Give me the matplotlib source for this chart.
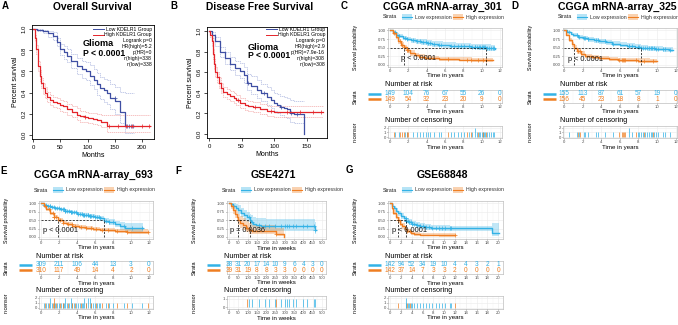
import numpy as np
import matplotlib
matplotlib.use('Agg')
import matplotlib.pyplot as plt
from matplotlib.patches import Rectangle
from matplotlib.lines import Line2D

plt.rcParams['font.family'] = ['Liberation Sans', 'DejaVu Sans']

# ---------------- data ----------------
# A: GEPIA overall survival (months) -- time, surv, lower CI, upper CI
a_low_t = [0, 8, 18, 28, 37, 44, 49, 56, 62, 70, 80, 90, 98, 105, 111, 118, 123, 130, 135, 142, 151, 160, 169, 186]
a_low_s = [1.0, 0.99, 0.98, 0.96, 0.94, 0.88, 0.81, 0.78, 0.75, 0.70, 0.65, 0.62, 0.60, 0.56, 0.52, 0.48, 0.44, 0.42, 0.40, 0.35, 0.32, 0.22, 0.08, 0.08]
a_low_lo = [1.0, 0.98, 0.96, 0.93, 0.90, 0.84, 0.76, 0.72, 0.69, 0.63, 0.58, 0.54, 0.52, 0.47, 0.43, 0.38, 0.34, 0.31, 0.29, 0.24, 0.20, 0.11, 0.02, 0.02]
a_low_hi = [1.0, 1.0, 0.99, 0.98, 0.97, 0.92, 0.86, 0.84, 0.81, 0.77, 0.73, 0.70, 0.69, 0.66, 0.62, 0.59, 0.55, 0.53, 0.52, 0.48, 0.45, 0.41, 0.40, 0.40]
a_high_t = [0, 3, 6, 9, 12, 15, 18, 22, 26, 31, 37, 43, 50, 55, 63, 71, 80, 86, 95, 101, 110, 117, 125, 135, 215]
a_high_s = [1.0, 0.92, 0.81, 0.65, 0.56, 0.49, 0.44, 0.40, 0.36, 0.33, 0.31, 0.30, 0.28, 0.27, 0.24, 0.22, 0.19, 0.175, 0.17, 0.16, 0.15, 0.14, 0.12, 0.08, 0.08]
a_high_lo = [1.0, 0.89, 0.77, 0.60, 0.51, 0.44, 0.39, 0.35, 0.31, 0.28, 0.26, 0.25, 0.23, 0.22, 0.19, 0.17, 0.14, 0.125, 0.12, 0.11, 0.10, 0.09, 0.07, 0.03, 0.03]
a_high_hi = [1.0, 0.95, 0.85, 0.70, 0.61, 0.54, 0.49, 0.45, 0.41, 0.38, 0.36, 0.35, 0.33, 0.32, 0.29, 0.27, 0.25, 0.23, 0.22, 0.21, 0.21, 0.20, 0.19, 0.19, 0.19]
a_cens_low = [150, 172, 176, 180, 184]
a_cens_high = [95, 140, 155, 170, 182, 200, 212]
a_stats = ['Logrank p=0', 'HR(high)=5.2', 'p(HR)=0', 'n(high)=338', 'n(low)=338']

# B: GEPIA disease free survival (months)
b_low_t = [0, 5, 10, 17, 24, 32, 40, 48, 54, 58, 65, 73, 80, 89, 95, 99, 104, 109, 115, 119, 124, 130, 145]
b_low_s = [1.0, 0.96, 0.90, 0.80, 0.74, 0.68, 0.64, 0.615, 0.57, 0.50, 0.47, 0.43, 0.40, 0.36, 0.33, 0.30, 0.28, 0.26, 0.25, 0.24, 0.20, 0.19, 0.0]
b_low_lo = [1.0, 0.93, 0.86, 0.75, 0.68, 0.62, 0.57, 0.54, 0.50, 0.43, 0.39, 0.35, 0.32, 0.28, 0.25, 0.22, 0.20, 0.18, 0.16, 0.15, 0.12, 0.11, 0.0]
b_low_hi = [1.0, 0.99, 0.94, 0.85, 0.80, 0.75, 0.71, 0.69, 0.65, 0.58, 0.56, 0.52, 0.49, 0.46, 0.43, 0.40, 0.39, 0.37, 0.36, 0.35, 0.33, 0.32, 0.32]
b_high_t = [0, 2, 4, 6, 8, 10, 12, 15, 18, 22, 27, 32, 38, 42, 48, 55, 60, 68, 78, 89, 100, 175]
b_high_s = [1.0, 0.96, 0.90, 0.78, 0.68, 0.60, 0.55, 0.50, 0.45, 0.41, 0.39, 0.37, 0.35, 0.33, 0.30, 0.28, 0.27, 0.26, 0.24, 0.22, 0.21, 0.21]
b_high_lo = [1.0, 0.94, 0.86, 0.73, 0.63, 0.55, 0.50, 0.45, 0.40, 0.36, 0.34, 0.32, 0.30, 0.28, 0.25, 0.23, 0.22, 0.21, 0.19, 0.17, 0.16, 0.16]
b_high_hi = [1.0, 0.98, 0.94, 0.83, 0.73, 0.65, 0.60, 0.55, 0.50, 0.46, 0.44, 0.42, 0.40, 0.38, 0.35, 0.33, 0.32, 0.31, 0.29, 0.27, 0.27, 0.27]
b_cens_low = [60, 85, 110, 126, 135]
b_cens_high = [45, 70, 95, 120, 140, 160, 172]
b_stats = ['Logrank p=0', 'HR(high)=2.9', 'p(HR)=7.9e-16', 'n(high)=308', 'n(low)=308']

# C: CGGA mRNA-array_301 (years)
c_low_t = [0, 0.3, 0.6, 1.0, 1.4, 1.8, 2.3, 2.8, 3.4, 4.0, 4.6, 5.2, 5.8, 6.5, 7.2, 8.0, 8.8, 9.6, 10.5, 11.0, 11.5]
c_low_s = [1.0, 0.95, 0.88, 0.83, 0.78, 0.74, 0.71, 0.68, 0.66, 0.63, 0.61, 0.59, 0.57, 0.56, 0.55, 0.54, 0.53, 0.52, 0.50, 0.48, 0.47]
c_low_lo = [1.0, 0.92, 0.83, 0.77, 0.72, 0.68, 0.64, 0.61, 0.59, 0.56, 0.53, 0.51, 0.49, 0.48, 0.47, 0.46, 0.45, 0.44, 0.41, 0.39, 0.38]
c_low_hi = [1.0, 0.98, 0.93, 0.89, 0.85, 0.81, 0.79, 0.76, 0.74, 0.71, 0.69, 0.68, 0.66, 0.65, 0.64, 0.63, 0.62, 0.61, 0.60, 0.58, 0.57]
c_high_t = [0, 0.3, 0.6, 0.9, 1.2, 1.5, 1.8, 2.2, 2.7, 3.2, 3.8, 4.5, 5.3, 6.2, 7.5, 9.0, 10.5, 11.2]
c_high_s = [1.0, 0.92, 0.80, 0.68, 0.58, 0.51, 0.42, 0.34, 0.28, 0.24, 0.21, 0.19, 0.17, 0.16, 0.15, 0.14, 0.13, 0.13]
c_high_lo = [1.0, 0.88, 0.74, 0.61, 0.51, 0.44, 0.35, 0.27, 0.22, 0.18, 0.15, 0.13, 0.12, 0.11, 0.10, 0.09, 0.08, 0.08]
c_high_hi = [1.0, 0.96, 0.86, 0.75, 0.66, 0.59, 0.50, 0.42, 0.36, 0.31, 0.28, 0.26, 0.24, 0.23, 0.22, 0.21, 0.20, 0.20]
c_medians = [1.5, 10.5]
c_risk_low = [149, 104, 76, 67, 55, 26, 0]
c_risk_high = [149, 54, 32, 23, 20, 9, 0]
c_cens_low = [0.5, 1.0, 1.6, 1.9, 2.5, 2.9, 3.3, 3.6, 3.9, 4.1, 4.4, 4.8, 5.3, 5.6, 6.7, 7.0, 7.4, 7.7, 8.1, 8.6, 9.0, 9.3, 9.3,
              9.5, 9.7, 9.8, 10.0, 10.1, 10.3, 10.4, 10.6, 10.8, 11.0, 11.2, 11.4]
c_cens_high = [0.4, 1.1, 1.3, 1.5, 1.8, 2.0, 6.3, 8.4, 8.8, 9.6, 10.2, 10.5]

# D: CGGA mRNA-array_325 (years)
d_low_t = [0, 0.3, 0.7, 1.0, 1.5, 2.0, 2.6, 3.2, 3.8, 4.5, 5.2, 6.0, 6.8, 7.6, 8.3, 9.0, 9.8, 10.6, 11.3, 11.7]
d_low_s = [1.0, 0.96, 0.91, 0.87, 0.82, 0.78, 0.74, 0.71, 0.68, 0.65, 0.62, 0.59, 0.56, 0.53, 0.50, 0.48, 0.46, 0.45, 0.44, 0.44]
d_low_lo = [1.0, 0.93, 0.87, 0.82, 0.76, 0.72, 0.67, 0.64, 0.61, 0.58, 0.55, 0.52, 0.49, 0.46, 0.43, 0.41, 0.39, 0.38, 0.37, 0.37]
d_low_hi = [1.0, 0.99, 0.95, 0.92, 0.88, 0.84, 0.81, 0.78, 0.75, 0.72, 0.70, 0.67, 0.64, 0.61, 0.58, 0.56, 0.54, 0.53, 0.52, 0.52]
d_high_t = [0, 0.2, 0.5, 0.8, 1.1, 1.4, 1.8, 2.3, 3.0, 3.8, 4.8, 5.8, 6.8, 8.0, 9.2, 10.0]
d_high_s = [1.0, 0.88, 0.72, 0.60, 0.50, 0.40, 0.32, 0.26, 0.22, 0.19, 0.16, 0.14, 0.13, 0.12, 0.11, 0.11]
d_high_lo = [1.0, 0.83, 0.66, 0.53, 0.43, 0.33, 0.25, 0.20, 0.16, 0.13, 0.10, 0.09, 0.08, 0.07, 0.06, 0.06]
d_high_hi = [1.0, 0.93, 0.79, 0.67, 0.58, 0.48, 0.40, 0.33, 0.29, 0.26, 0.23, 0.21, 0.20, 0.19, 0.18, 0.18]
d_medians = [1.1, 8.3]
d_risk_low = [155, 113, 87, 61, 57, 19, 0]
d_risk_high = [156, 45, 23, 18, 8, 1, 0]
d_cens_low = [0.5, 1.4, 1.6, 2.1, 2.3, 2.6, 3.4, 3.7, 4.4, 5.3, 7.0, 7.0, 7.3, 7.9, 8.1, 8.3, 8.5, 8.7, 8.9, 9.1, 9.3,
              9.5, 9.7, 9.9, 10.1, 10.6, 10.9, 11.4]
d_cens_high = [1.5, 1.7, 5.9, 6.2, 6.3, 6.4, 6.6, 7.7, 8.6, 9.6]

# E: CGGA mRNA-array_693 (years)
e_low_t = [0, 0.3, 0.7, 1.1, 1.6, 2.1, 2.7, 3.3, 4.0, 4.7, 5.3, 6.0, 6.6, 7.0, 7.5, 8.2, 8.8, 9.3, 10.0, 11.3]
e_low_s = [1.0, 0.96, 0.92, 0.88, 0.85, 0.82, 0.77, 0.73, 0.69, 0.65, 0.62, 0.58, 0.55, 0.49, 0.44, 0.38, 0.32, 0.27, 0.26, 0.26]
e_low_lo = [1.0, 0.94, 0.89, 0.85, 0.81, 0.78, 0.72, 0.68, 0.64, 0.60, 0.56, 0.52, 0.48, 0.42, 0.36, 0.29, 0.22, 0.17, 0.16, 0.16]
e_low_hi = [1.0, 0.98, 0.95, 0.92, 0.89, 0.86, 0.81, 0.78, 0.74, 0.71, 0.68, 0.65, 0.62, 0.57, 0.53, 0.48, 0.44, 0.42, 0.42, 0.42]
e_high_t = [0, 0.3, 0.6, 1.0, 1.4, 1.9, 2.4, 2.9, 3.5, 4.2, 5.0, 5.8, 6.5, 7.5, 8.2, 9.5, 11.9]
e_high_s = [1.0, 0.92, 0.82, 0.70, 0.60, 0.50, 0.43, 0.38, 0.33, 0.29, 0.26, 0.24, 0.22, 0.20, 0.17, 0.16, 0.16]
e_high_lo = [1.0, 0.89, 0.78, 0.65, 0.55, 0.45, 0.38, 0.33, 0.28, 0.24, 0.21, 0.19, 0.17, 0.15, 0.12, 0.10, 0.10]
e_high_hi = [1.0, 0.95, 0.86, 0.75, 0.65, 0.56, 0.49, 0.44, 0.39, 0.35, 0.32, 0.30, 0.28, 0.27, 0.25, 0.25, 0.25]
e_medians = [1.9, 7.0]
e_risk_low = [309, 211, 106, 44, 13, 3, 0]
e_risk_high = [310, 117, 49, 14, 4, 2, 0]
e_cens_low = [0.3, 0.6, 0.8, 1.0, 1.0, 1.2, 1.4, 1.6, 1.8, 2.0, 2.2, 2.4, 2.6, 2.7, 2.7, 2.9, 3.1, 3.3, 3.3, 3.5, 3.7,
              3.9, 4.1, 4.3, 4.5, 4.7, 4.8, 4.8, 5.0, 5.2, 5.2, 5.4, 5.4, 5.6, 5.8, 6.0, 6.2, 6.4, 6.6, 7.2, 7.6,
              8.0, 9.2, 10.1, 11.2]
e_cens_high = [0.5, 0.9, 1.3, 1.5, 1.5, 1.7, 2.1, 2.5, 3.0, 3.4, 3.8, 4.4, 5.0, 5.5, 6.1, 6.8, 7.4, 8.4, 9.6, 11.9]

# F: GSE4271 (weeks)
f_low_t = [0, 10, 20, 35, 50, 65, 80, 95, 110, 120, 130, 145, 170, 200, 460, 470]
f_low_s = [1.0, 0.97, 0.92, 0.87, 0.80, 0.72, 0.65, 0.58, 0.50, 0.45, 0.40, 0.36, 0.34, 0.32, 0.22, 0.22]
f_low_lo = [1.0, 0.92, 0.84, 0.77, 0.68, 0.59, 0.51, 0.44, 0.36, 0.31, 0.26, 0.22, 0.20, 0.18, 0.08, 0.08]
f_low_hi = [1.0, 1.0, 1.0, 0.98, 0.94, 0.87, 0.81, 0.75, 0.68, 0.64, 0.60, 0.56, 0.55, 0.53, 0.46, 0.46]
f_high_t = [0, 10, 20, 30, 40, 50, 60, 75, 90, 105, 125, 250, 298]
f_high_s = [1.0, 0.92, 0.80, 0.68, 0.58, 0.50, 0.42, 0.35, 0.28, 0.22, 0.19, 0.095, 0.0]
f_high_lo = [1.0, 0.84, 0.68, 0.55, 0.44, 0.36, 0.28, 0.21, 0.15, 0.10, 0.08, 0.02, 0.0]
f_high_hi = [1.0, 1.0, 0.94, 0.84, 0.76, 0.69, 0.62, 0.55, 0.48, 0.41, 0.36, 0.26, 0.26]
f_medians = [50, 110]
f_risk_low = [38, 31, 20, 17, 14, 10, 9, 6, 4, 3, 0]
f_risk_high = [39, 31, 19, 8, 8, 3, 3, 0, 0, 0, 0]
f_cens_low = [105, 125, 160, 195, 215, 245, 280, 300, 312, 325, 345, 360, 400, 420, 455, 465]
f_cens_high = [95, 250]

# G: GSE68848 (years)
g_low_t = [0, 0.3, 0.7, 1.0, 1.5, 2.0, 2.5, 3.0, 3.5, 4.0, 4.8, 5.6, 6.5, 7.5, 9.0, 11.0, 18.8, 20.2]
g_low_s = [1.0, 0.93, 0.85, 0.78, 0.70, 0.62, 0.55, 0.49, 0.44, 0.40, 0.36, 0.33, 0.30, 0.28, 0.27, 0.26, 0.12, 0.12]
g_low_lo = [1.0, 0.89, 0.79, 0.71, 0.63, 0.54, 0.47, 0.41, 0.36, 0.32, 0.28, 0.25, 0.22, 0.20, 0.19, 0.19, 0.02, 0.02]
g_low_hi = [1.0, 0.97, 0.91, 0.85, 0.78, 0.70, 0.63, 0.57, 0.52, 0.48, 0.44, 0.41, 0.38, 0.36, 0.35, 0.34, 0.42, 0.42]
g_high_t = [0, 0.3, 0.6, 1.0, 1.4, 1.8, 2.2, 2.7, 3.2, 3.8, 4.5, 5.5, 7.0, 9.0, 12.0]
g_high_s = [1.0, 0.85, 0.72, 0.60, 0.50, 0.40, 0.32, 0.24, 0.17, 0.12, 0.09, 0.07, 0.06, 0.05, 0.05]
g_high_lo = [1.0, 0.79, 0.64, 0.52, 0.42, 0.32, 0.24, 0.17, 0.11, 0.07, 0.04, 0.03, 0.02, 0.01, 0.01]
g_high_hi = [1.0, 0.92, 0.80, 0.69, 0.59, 0.49, 0.41, 0.32, 0.24, 0.19, 0.15, 0.13, 0.12, 0.11, 0.11]
g_medians = [1.4, 3.0]
g_risk_low = [142, 94, 52, 34, 19, 10, 4, 4, 3, 2, 1]
g_risk_high = [142, 37, 14, 7, 3, 3, 2, 0, 0, 0, 0]
g_cens_low = [2.9, 3.0, 3.0, 3.3, 3.5, 3.8, 4.0, 4.5, 5.0, 5.6, 6.0, 6.6, 7.2, 7.8, 8.4, 9.0, 9.6, 10.2, 11.0, 11.2]
g_cens_high = [1.5, 3.2, 3.6, 12.0]

years12 = [0, 2, 4, 6, 8, 10, 12]
weeks500 = [0, 50, 100, 150, 200, 250, 300, 350, 400, 450, 500]
years20 = [0, 2, 4, 6, 8, 10, 12, 14, 16, 18, 20]

# ---------------- style ----------------
BLUE = '#33B2E6'
ORANGE = '#EF7E22'
NAVY = '#3F4FA3'
RED = '#E4242A'
GRID = '#EBEBEB'
EDGE = '#BDBDBD'

W, H = 678, 325
fig = plt.figure(figsize=(W / 100, H / 100), dpi=100)


def box(l, t, r, b):
    return [l / W, 1 - b / H, (r - l) / W, (b - t) / H]


def ftext(x, y, s, **kw):
    fig.text(x / W, 1 - y / H, s, **kw)


ROWS = {
    'top': dict(title=7, legend=17, surv=(28, 67), risk=(90, 103), cens=(126, 138)),
    'bot': dict(title=175, legend=190, surv=(201, 239), risk=(261, 274), cens=(296, 309)),
}


def gg_style(ax, xlim, xt, ylim, yt, ytl):
    ax.set_xlim(xlim)
    ax.set_ylim(ylim)
    ax.set_xticks(xt)
    ax.set_xticklabels(['%g' % v for v in xt])
    ax.set_yticks(yt)
    ax.set_yticklabels(ytl)
    mids = [(a + b) / 2 for a, b in zip(xt[:-1], xt[1:])]
    ax.set_xticks(mids, minor=True)
    ax.tick_params(labelsize=3.1, length=1.0, width=0.4, pad=0.6, color='#444444', labelcolor='#4D4D4D')
    ax.tick_params(which='minor', length=0)
    ax.grid(True, color=GRID, lw=0.4)
    ax.grid(True, which='minor', axis='x', color='#F4F4F4', lw=0.3)
    ax.set_axisbelow(True)
    for sp in ax.spines.values():
        sp.set_color(EDGE)
        sp.set_linewidth(0.5)


def km_curve(ax, t, s, lo, hi, col, cens):
    ax.fill_between(t, lo, hi, step='post', color=col, alpha=0.3, lw=0)
    ax.step(t, s, where='post', color=col, lw=1.0)
    idx = np.searchsorted(t, cens, side='right') - 1
    ax.plot(cens, np.asarray(s)[idx], '+', color=col, ms=2.2, mew=0.5)


def legend_row(l, y):
    ftext(l - 5, y, 'Strata', fontsize=3.8, va='center', color='#222222')
    for x0, lab, col in [(l + 14, 'Low expression', BLUE), (l + 65, 'High expression', ORANGE)]:
        fig.add_artist(Rectangle((x0 / W, 1 - (y + 3) / H), 10 / W, 6 / H, transform=fig.transFigure,
                                 color=col, alpha=0.35, lw=0))
        fig.add_artist(Line2D([x0 / W, (x0 + 10) / W], [1 - y / H] * 2, color=col, lw=0.8))
        ftext(x0 + 13, y, lab, fontsize=3.8, va='center', color='#333333')


def km_panel(l, r, row, title, xt, xlim, xlab, low, high, meds, ptxt, ppos,
             risk_low, risk_high, cens_low, cens_high, cticks):
    R = ROWS[row]
    w = r - l
    ftext((l + r) / 2 - 3, R['title'], title, ha='center', va='center', fontsize=7.6, fontweight='bold')
    legend_row(l, R['legend'])

    # survival curves
    ax = fig.add_axes(box(l, R['surv'][0], r, R['surv'][1]))
    gg_style(ax, xlim, xt, (-0.06, 1.07), [0, 0.25, 0.5, 0.75, 1.0], ['0.00', '0.25', '0.50', '0.75', '1.00'])
    km_curve(ax, *low, BLUE, cens_low)
    km_curve(ax, *high, ORANGE, cens_high)
    ax.hlines(0.5, 0, max(meds), colors='black', linestyles=(0, (3, 2)), lw=0.5)
    ax.vlines(meds, 0, 0.5, colors='black', linestyles=(0, (3, 2)), lw=0.5)
    ax.text(ppos[0], ppos[1], ptxt, fontsize=5.3, va='center', color='#111111')
    ax.set_xlabel(xlab, fontsize=4.4, labelpad=0.2)
    ax.set_ylabel('Survival probability', fontsize=3.8)
    ax.yaxis.set_label_coords(-30 / w, 0.5)

    # number at risk
    ftext(l - 3, R['risk'][0] - 5, 'Number at risk', fontsize=5.2, va='center')
    axr = fig.add_axes(box(l, R['risk'][0], r, R['risk'][1]))
    gg_style(axr, xlim, xt, (0.35, 2.65), [], [])
    for yv, vals, col in [(2, risk_low, BLUE), (1, risk_high, ORANGE)]:
        for xv, n in zip(xt, vals):
            axr.text(xv, yv, str(n), ha='center', va='center', color=col, fontsize=4.7)
        axr.plot([-20 / w, -7 / w], [yv, yv], color=col, lw=1.8, solid_capstyle='butt',
                 transform=axr.get_yaxis_transform(), clip_on=False)
    axr.set_xlabel(xlab, fontsize=4.4, labelpad=0.2)
    axr.set_ylabel('Strata', fontsize=4)
    axr.yaxis.set_label_coords(-30 / w, 0.5)

    # number of censoring
    ftext(l - 3, R['cens'][0] - 5, 'Number of censoring', fontsize=5.2, va='center')
    axc = fig.add_axes(box(l, R['cens'][0], r, R['cens'][1]))
    gg_style(axc, xlim, xt, (-0.2, cticks[-1] + 0.35), cticks, [str(c) for c in cticks])
    for times, col in [(cens_low, BLUE), (cens_high, ORANGE)]:
        tv, cnt = np.unique(times, return_counts=True)
        axc.vlines(tv, 0, cnt, colors=col, lw=0.6, alpha=0.85)
    axc.set_xlabel(xlab, fontsize=4.4, labelpad=0.2)
    axc.set_ylabel('n.censor', fontsize=3.8)
    axc.yaxis.set_label_coords(-30 / w, 0.5)


def gepia(rect, title, title_x, low, high, cens_low, cens_high, xt, xlim, stats, stat_x, glioma_xy):
    ax = fig.add_axes(rect)
    for (t, s, lo, hi), cic in [(low, '#AEB8E0'), (high, '#F3AAAA')]:
        ax.step(t, lo, where='post', color=cic, lw=0.5, ls=(0, (2, 1)))
        ax.step(t, hi, where='post', color=cic, lw=0.5, ls=(0, (2, 1)))
    for (t, s, lo, hi), cens, col in [(low, cens_low, NAVY), (high, cens_high, RED)]:
        ax.step(t, s, where='post', color=col, lw=0.9)
        idx = np.searchsorted(t, cens, side='right') - 1
        ax.plot(cens, np.asarray(s)[idx], '+', color=col, ms=2.2, mew=0.5)
    ax.set_xlim(xlim)
    ax.set_ylim(-0.04, 1.04)
    ax.set_xticks(xt)
    ax.set_yticks([0, 0.2, 0.4, 0.6, 0.8, 1.0])
    ax.set_yticklabels(['0.0', '0.2', '0.4', '0.6', '0.8', '1.0'], rotation=90, va='center')
    ax.tick_params(direction='out', length=2.5, width=0.5, labelsize=4.3, pad=1.5)
    for sp in ax.spines.values():
        sp.set_linewidth(0.6)
    ax.set_xlabel('Months', fontsize=5, labelpad=1.5)
    ax.set_ylabel('Percent survival', fontsize=5, labelpad=2)
    # legend drawn by hand: line key + right-aligned label
    for y, lab, col in [(29, 'Low KDELR1 Group', NAVY), (34.5, 'High KDELR1 Group', RED)]:
        fig.add_artist(Line2D([(stat_x - 59) / W, (stat_x - 48) / W], [1 - y / H] * 2, color=col, lw=0.7))
        ftext(stat_x, y, lab, ha='right', va='center', fontsize=3.7)
    for i, s in enumerate(stats):
        ftext(stat_x, 40.5 + 6 * i, s, ha='right', va='center', fontsize=3.7)
    ftext(glioma_xy[0], glioma_xy[1], 'Glioma', fontsize=6.6, fontweight='bold', va='center')
    ftext(glioma_xy[0], glioma_xy[1] + 9, 'P < 0.0001', fontsize=6.2, fontweight='bold', va='center')
    ftext(title_x, 7, title, ha='center', va='center', fontsize=7.4, fontweight='bold')


# ---------------- panels ----------------
gepia(box(32, 25, 154, 139), 'Overall Survival', 92,
      (a_low_t, a_low_s, a_low_lo, a_low_hi), (a_high_t, a_high_s, a_high_lo, a_high_hi),
      a_cens_low, a_cens_high, [0, 50, 100, 150, 200], (-2, 222), a_stats, 152, (83, 44))
gepia(box(207, 27, 327, 138), 'Disease Free Survival', 260,
      (b_low_t, b_low_s, b_low_lo, b_low_hi), (b_high_t, b_high_s, b_high_lo, b_high_hi),
      b_cens_low, b_cens_high, [0, 50, 100, 150], (-3, 181), b_stats, 325, (248, 47))

km_panel(388, 502, 'top', 'CGGA mRNA-array_301', years12, (-0.22, 12.22), 'Time in years',
         (c_low_t, c_low_s, c_low_lo, c_low_hi), (c_high_t, c_high_s, c_high_lo, c_high_hi),
         c_medians, 'p < 0.0001', (1.2, 0.18), c_risk_low, c_risk_high, c_cens_low, c_cens_high, [0, 1, 2])
km_panel(563, 677, 'top', 'CGGA mRNA-array_325', years12, (-0.12, 12.15), 'Time in years',
         (d_low_t, d_low_s, d_low_lo, d_low_hi), (d_high_t, d_high_s, d_high_lo, d_high_hi),
         d_medians, 'p < 0.0001', (0.4, 0.16), d_risk_low, d_risk_high, d_cens_low, d_cens_high, [0, 1, 2])
km_panel(39, 153, 'bot', 'CGGA mRNA-array_693', years12, (-0.22, 12.44), 'Time in years',
         (e_low_t, e_low_s, e_low_lo, e_low_hi), (e_high_t, e_high_s, e_high_lo, e_high_hi),
         e_medians, 'p < 0.0001', (0.25, 0.19), e_risk_low, e_risk_high, e_cens_low, e_cens_high, [0, 1, 2])
km_panel(227, 326, 'bot', 'GSE4271', weeks500, (-12, 522), 'Time in weeks',
         (f_low_t, f_low_s, f_low_lo, f_low_hi), (f_high_t, f_high_s, f_high_lo, f_high_hi),
         f_medians, 'p = 0.0036', (5, 0.18), f_risk_low, f_risk_high, f_cens_low, f_cens_high, [0, 1])
km_panel(388, 503, 'bot', 'GSE68848', years20, (-0.4, 20.9), 'Time in years',
         (g_low_t, g_low_s, g_low_lo, g_low_hi), (g_high_t, g_high_s, g_high_lo, g_high_hi),
         g_medians, 'p < 0.0001', (0.4, 0.18), g_risk_low, g_risk_high, g_cens_low, g_cens_high, [0, 1, 2])

for lab, x, y in [('A', 5, 6), ('B', 174, 6), ('C', 344, 6), ('D', 515, 6), ('E', 4, 171), ('F', 178, 171), ('G', 349, 170)]:
    ftext(x, y, lab, ha='center', va='center', fontsize=7, fontweight='bold')

fig.savefig('out.png', dpi=100)
